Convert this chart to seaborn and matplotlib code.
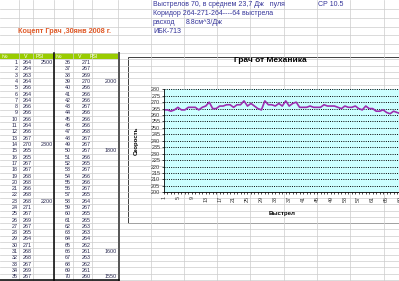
import matplotlib
matplotlib.use("Agg")
import matplotlib.pyplot as plt
import seaborn as sns
import pandas as pd
from matplotlib.patches import Rectangle

# shot number / speed (V) / pressure (PSI) from the sheet
shots = list(range(1, 71))
speeds = [264, 264, 263, 264, 266, 264, 264, 266, 266, 266,
          264, 266, 267, 270, 265, 265, 267, 267, 268, 268,
          266, 268, 268, 271, 267, 269, 267, 265, 264, 271,
          268, 268, 267, 269, 267,
          271, 267, 269, 270, 266, 266, 266, 267, 266, 266,
          266, 268, 267, 267, 267, 266, 265, 267, 266, 266,
          267, 265, 264, 267, 265, 265, 263, 263, 264, 262,
          261, 263, 262, 261, 260]
psi_shots = [1, 14, 23, 39, 50, 66, 70]
psi_values = [2500, 2300, 2200, 2000, 1800, 1600, 1550]

header = ["№", "V", "PSI"]
sheet_title = "Коцепт Грач ,30янв 2008 г."
notes = ["Выстрелов 70, в среднем 23,7 Дж   пуля", "Коридор 264-271-264----64 выстрела",
         "расход", "ИБК-713"]
note_extra = ["СР 10.5", "8.8см^3/Дж"]
chart_title = "Грач от Механика"
x_label = "Выстрел"
y_label = "Скорость"

plt.rcParams["font.family"] = ["Liberation Sans", "DejaVu Sans"]

W, H = 399, 281
fig = plt.figure(figsize=(W / 100, H / 100), dpi=100)
bg = fig.add_axes([0, 0, 1, 1])
bg.set_xlim(0, W)
bg.set_ylim(H, 0)
bg.axis("off")

grid_c = "#cccccc"
top_rows = [0, 8.8, 17.7, 26.5, 35.3, 44.2, 53.0]
data_rows = [59.3 + 6.3 * i for i in range(0, 37)]
cols = [19, 33, 54, 73, 92, 118, 151, 184, 217, 250, 284, 317, 350, 384]

for y in top_rows[1:] + data_rows:
    bg.plot([0, W], [y, y], color=grid_c, lw=0.5)
for x in cols:
    bg.plot([x, x], [0, H], color=grid_c, lw=0.5)

# overflowing text hides the cell borders
for x0, x1, r in [(151, 317, 0), (151, 284, 1), (184, 250, 2), (19, 118, 3)]:
    bg.add_patch(Rectangle((x0 + 0.6, top_rows[r] + 0.6), x1 - x0 - 1.2,
                           top_rows[r + 1] - top_rows[r] - 1.2, fc="white", ec="none"))

blue = "#333399"
fs_note = 5.0
for i, t in enumerate(notes):
    yc = (top_rows[i] + top_rows[i + 1]) / 2 + 0.5
    bg.text(153, yc, t, color=blue, fontsize=fs_note, va="center", ha="left")
bg.text(318, (top_rows[0] + top_rows[1]) / 2 + 0.5, note_extra[0], color=blue,
        fontsize=fs_note, va="center")
bg.text(186, (top_rows[2] + top_rows[3]) / 2 + 0.5, note_extra[1], color=blue,
        fontsize=fs_note, va="center")
bg.text(18, (top_rows[3] + top_rows[4]) / 2 + 1, sheet_title, color="#e05a28",
        fontsize=5.2, fontweight="bold", va="center")

# table
bg.add_patch(Rectangle((0, 53.0), 118, 6.3, fc="#99cc00", ec="none"))
for x0 in (1.5, 56):
    for dx, h in zip((0, 22, 34), header):
        bg.text(x0 + dx, 56.3, h, color="white", fontsize=3.8, va="center")

speed_at = dict(zip(shots, speeds))
psi_at = dict(zip(psi_shots, psi_values))
txt_c = "#2a2a50"
for n in shots:
    half = 0 if n <= 35 else 1
    r = (n - 1) % 35
    yc = data_rows[r] + 3.3
    rights = (17.5, 32, 53) if half == 0 else (71, 91, 117)
    bg.text(rights[0], yc, str(n), color=txt_c, fontsize=3.9, ha="right", va="center")
    bg.text(rights[1], yc, str(speed_at[n]), color=txt_c, fontsize=3.9, ha="right", va="center")
    if n in psi_at:
        bg.text(rights[2], yc, str(psi_at[n]), color=txt_c, fontsize=3.9, ha="right", va="center")

bg.plot([54, 54], [53, 280], color="black", lw=1.1)
bg.plot([118.5, 118.5], [53, 280], color="#555555", lw=1.4)
bg.plot([0, 119], [279.6, 279.6], color="black", lw=1.1)

# chart area
bg.add_patch(Rectangle((128, 57.3), 300, 165.7, fc="white", ec="#404040", lw=0.7))

ax = fig.add_axes([164 / W, 1 - 192.3 / H, 240 / W, 103 / H])
ax.set_facecolor("#ccffff")
df = pd.DataFrame({"shot": shots, "speed": speeds})
sns.lineplot(data=df, x="shot", y="speed", ax=ax, color="#9c2fb0", lw=1.2)
ax.set_xlim(1, 70)
ax.set_ylim(200, 280)
ax.set_yticks(range(200, 281, 5))
ax.set_xticks(shots)
ax.set_xticklabels([str(s) if (s - 1) % 4 == 0 else "" for s in shots], rotation=90)
ax.tick_params(axis="both", labelsize=3.9, length=1.6, width=0.5, pad=1, colors="black")
ax.tick_params(axis="x", labelcolor="#333333")
ax.tick_params(axis="y", labelcolor="#333333")
ax.grid(axis="y", color="black", lw=0.7, linestyle=(0, (1, 1.3)))
ax.grid(axis="x", visible=False)
for side in ("top", "right"):
    ax.spines[side].set_visible(False)
for side in ("left", "bottom"):
    ax.spines[side].set_linewidth(0.6)
ax.set_xlabel(x_label, fontsize=4.4, fontweight="bold")
ax.set_ylabel(y_label, fontsize=4.4, fontweight="bold")
ax.xaxis.set_label_coords((282 - 164) / 240, (192.3 - 211) / 103)
ax.yaxis.set_label_coords((139 - 164) / 240, 0.5)
ax.set_title(chart_title, fontsize=6.0, fontweight="bold", x=(270 - 164) / 240,
             y=(192.3 - 69) / 103, va="center")

fig.savefig("out.png", dpi=100)
